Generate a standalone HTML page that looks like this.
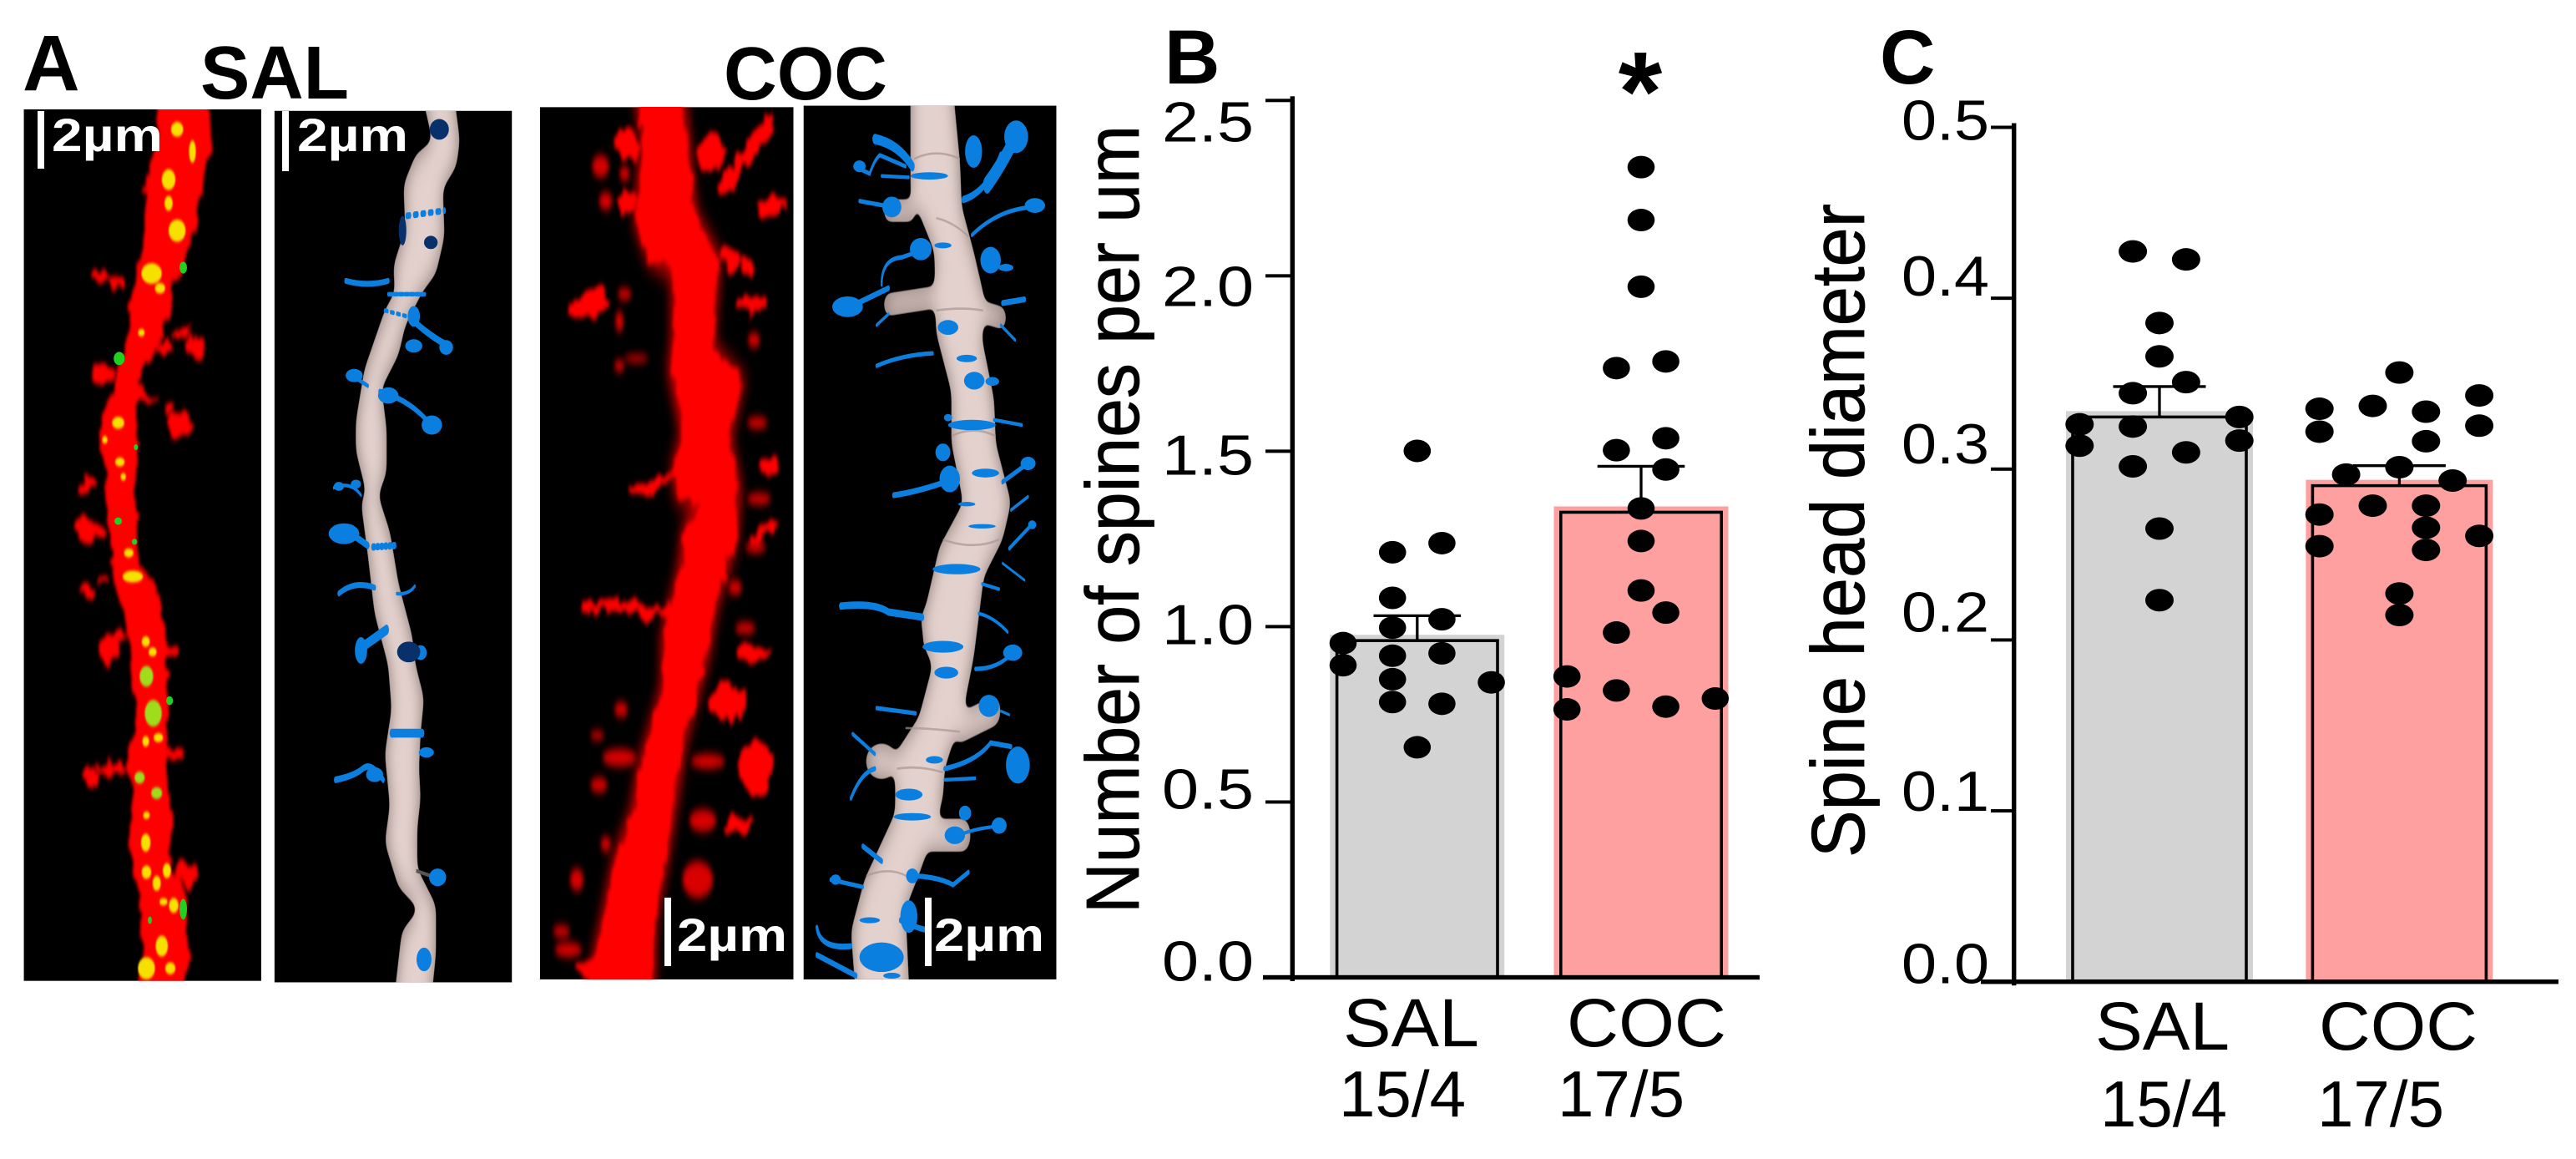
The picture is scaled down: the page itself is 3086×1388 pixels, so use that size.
<!DOCTYPE html>
<html>
<head>
<meta charset="utf-8">
<title>Dendritic spines: SAL vs COC</title>
<style>
html,body{margin:0;padding:0;background:#fff;width:3086px;height:1388px;overflow:hidden}
svg{display:block}
text{font-family:"Liberation Sans",sans-serif;fill:#000}
.w{fill:#fff;font-weight:bold}
</style>
</head>
<body>
<svg id="fig" xmlns="http://www.w3.org/2000/svg" width="3086" height="1388" viewBox="0 0 3086 1388">
<defs>
<filter id="b3" x="-20%" y="-20%" width="140%" height="140%"><feGaussianBlur stdDeviation="3"/></filter>
<filter id="b6" x="-30%" y="-30%" width="160%" height="160%"><feGaussianBlur stdDeviation="6"/></filter>
<filter id="b14" x="-30%" y="-10%" width="160%" height="120%"><feGaussianBlur stdDeviation="14"/></filter>
<filter id="b2" x="-20%" y="-20%" width="140%" height="140%"><feGaussianBlur stdDeviation="2"/></filter>
<filter id="organic" x="-15%" y="-5%" width="130%" height="110%" color-interpolation-filters="sRGB">
  <feTurbulence type="fractalNoise" baseFrequency="0.035" numOctaves="2" seed="7" result="n"/>
  <feDisplacementMap in="SourceGraphic" in2="n" scale="34" xChannelSelector="R" yChannelSelector="G" result="d"/>
  <feGaussianBlur in="d" stdDeviation="4"/>
</filter>
<filter id="dend" x="-15%" y="-5%" width="130%" height="110%" color-interpolation-filters="sRGB">
  <feGaussianBlur in="SourceAlpha" stdDeviation="9" result="bl"/>
  <feComponentTransfer in="bl" result="shape"><feFuncA type="linear" slope="10" intercept="-4.5"/></feComponentTransfer>
  <feGaussianBlur in="shape" stdDeviation="18" result="soft"/>
  <feFlood flood-color="#e3d1cd" result="fl"/>
  <feComposite in="fl" in2="shape" operator="in" result="base"/>
  <feFlood flood-color="#85736f" result="fd"/>
  <feComposite in="fd" in2="soft" operator="out" result="e0"/>
  <feComposite in="e0" in2="shape" operator="in" result="edge"/>
  <feMerge><feMergeNode in="base"/><feMergeNode in="edge"/></feMerge>
</filter>
<clipPath id="clip-sl"><rect x="70" y="148" width="697" height="1179"/></clipPath>
<clipPath id="clip-sr"><rect x="806" y="150" width="697" height="1179"/></clipPath>
<clipPath id="clip-cl"><rect x="17" y="145" width="744" height="1180"/></clipPath>
<clipPath id="clip-cr"><rect x="791" y="143" width="742" height="1182"/></clipPath>
</defs>
<rect width="3086" height="1388" fill="#fff"/>

<text x="27" y="108" font-size="95" font-weight="bold">A</text>
<text x="240" y="118" font-size="90" font-weight="bold" textLength="178" lengthAdjust="spacingAndGlyphs">SAL</text>
<text x="867" y="119" font-size="90" font-weight="bold" textLength="196" lengthAdjust="spacingAndGlyphs">COC</text>
<text x="1395" y="100" font-size="92" font-weight="bold">B</text>
<text x="2252" y="100" font-size="92" font-weight="bold">C</text>

<!-- SAL confocal -->
<g transform="scale(0.408,0.8852)">
<rect x="70" y="148" width="697" height="1179" fill="#000"/>
<g clip-path="url(#clip-sl)">
<g fill="#ff0000" filter="url(#organic)">
<polygon points="590,100 625,190 590,260 570,320 520,380 495,430 450,480 400,520 400,560 410,600 395,660 400,700 410,760 470,810 490,870 490,940 495,990 490,1050 505,1100 500,1170 550,1220 550,1280 545,1380 395,1380 420,1260 410,1210 375,1150 385,1090 375,1020 400,970 390,900 360,830 330,780 315,700 310,640 290,590 320,530 370,480 380,410 420,340 425,260 460,190 470,100"/>
<ellipse cx="295" cy="377" rx="28" ry="12"/><ellipse cx="345" cy="382" rx="25" ry="8"/><ellipse cx="575" cy="470" rx="28" ry="14"/><ellipse cx="535" cy="450" rx="30" ry="8"/><ellipse cx="485" cy="470" rx="25" ry="10"/><ellipse cx="300" cy="506" rx="35" ry="14"/><ellipse cx="410" cy="535" rx="35" ry="12"/><ellipse cx="530" cy="575" rx="38" ry="16"/><ellipse cx="500" cy="553" rx="15" ry="7"/><ellipse cx="258" cy="657" rx="25" ry="10"/><ellipse cx="320" cy="650" rx="15" ry="5"/><ellipse cx="265" cy="717" rx="45" ry="15"/><ellipse cx="262" cy="800" rx="20" ry="9"/><ellipse cx="300" cy="787" rx="20" ry="6"/><ellipse cx="325" cy="880" rx="30" ry="18"/><ellipse cx="340" cy="860" rx="30" ry="7"/><ellipse cx="517" cy="1018" rx="27" ry="12"/><ellipse cx="265" cy="1053" rx="26" ry="11"/><ellipse cx="330" cy="1040" rx="45" ry="10"/><ellipse cx="550" cy="1182" rx="35" ry="17"/><ellipse cx="450" cy="540" rx="20" ry="5"/><ellipse cx="500" cy="880" rx="25" ry="12"/>
</g>
<g fill="#f6e000" filter="url(#b2)">
<ellipse cx="520" cy="175" rx="18" ry="10"/><ellipse cx="565" cy="205" rx="10" ry="15"/><ellipse cx="495" cy="243" rx="20" ry="14"/><ellipse cx="495" cy="275" rx="12" ry="10"/><ellipse cx="520" cy="312" rx="25" ry="15"/><ellipse cx="445" cy="370" rx="30" ry="14"/><ellipse cx="470" cy="390" rx="15" ry="7"/><ellipse cx="415" cy="450" rx="10" ry="5"/><ellipse cx="347" cy="572" rx="18" ry="8"/><ellipse cx="308" cy="595" rx="8" ry="5"/><ellipse cx="352" cy="625" rx="14" ry="6"/><ellipse cx="362" cy="645" rx="8" ry="5"/><ellipse cx="378" cy="748" rx="14" ry="6"/><ellipse cx="390" cy="780" rx="30" ry="8"/><ellipse cx="428" cy="868" rx="12" ry="7"/><ellipse cx="448" cy="882" rx="12" ry="6"/><ellipse cx="428" cy="1003" rx="10" ry="7"/><ellipse cx="465" cy="998" rx="14" ry="6"/><ellipse cx="430" cy="1103" rx="10" ry="5"/><ellipse cx="428" cy="1140" rx="14" ry="12"/><ellipse cx="430" cy="1180" rx="14" ry="9"/><ellipse cx="460" cy="1195" rx="12" ry="10"/><ellipse cx="490" cy="1178" rx="12" ry="10"/><ellipse cx="510" cy="1225" rx="14" ry="10"/><ellipse cx="475" cy="1280" rx="18" ry="14"/><ellipse cx="430" cy="1310" rx="25" ry="15"/><ellipse cx="500" cy="1310" rx="15" ry="8"/><ellipse cx="480" cy="1220" rx="12" ry="5"/>
</g>
<g fill="#9fdc1e" filter="url(#b2)">
<ellipse cx="430" cy="915" rx="20" ry="14"/><ellipse cx="450" cy="965" rx="25" ry="18"/><ellipse cx="410" cy="1052" rx="15" ry="8"/><ellipse cx="460" cy="1073" rx="16" ry="8"/>
</g>
<g fill="#22d020">
<ellipse cx="350" cy="485" rx="16" ry="9"/><ellipse cx="538" cy="362" rx="11" ry="8"/><ellipse cx="347" cy="705" rx="11" ry="5"/><ellipse cx="395" cy="733" rx="8" ry="4"/><ellipse cx="498" cy="948" rx="10" ry="6"/><ellipse cx="538" cy="1230" rx="11" ry="14"/><ellipse cx="440" cy="1245" rx="6" ry="5"/><ellipse cx="399" cy="605" rx="6" ry="4"/>
</g>
</g>
</g>

<!-- SAL reconstruction -->
<g transform="scale(0.408,0.8852)">
<rect x="806" y="150" width="697" height="1179" fill="#000"/>
<g clip-path="url(#clip-sr)">
<g filter="url(#dend)">
<polygon fill="#d8c3bf" points="1325,100 1350,190 1340,225 1300,255 1305,320 1280,370 1240,395 1190,440 1170,480 1120,525 1135,580 1135,640 1110,670 1145,720 1170,790 1210,860 1220,900 1245,945 1235,990 1230,1040 1235,1080 1225,1120 1225,1175 1280,1225 1280,1290 1260,1380 1150,1380 1180,1260 1230,1230 1170,1200 1130,1140 1145,1090 1130,1020 1150,960 1140,900 1100,830 1080,750 1060,680 1075,665 1045,610 1045,570 1070,500 1130,420 1160,395 1155,360 1190,310 1185,250 1220,210 1270,190 1225,100"/>
</g>
<g fill="none" stroke="#0a7fe0" stroke-linecap="round">
<path d="M1015,380 Q1080,388 1140,380" stroke-width="8"/>
<path d="M1205,430 Q1260,455 1325,470" stroke-width="10"/>
<path d="M1040,510 L1080,522" stroke-width="6"/>
<path d="M1115,530 Q1200,540 1260,572" stroke-width="8"/>
<path d="M980,660 Q1030,650 1060,670" stroke-width="5"/>
<path d="M1040,725 L1080,738" stroke-width="10"/>
<path d="M995,803 Q1040,785 1100,795" stroke-width="8"/>
<path d="M1165,803 Q1200,805 1218,793" stroke-width="5"/>
<path d="M1065,875 L1135,852" stroke-width="14"/>
<path d="M985,1055 Q1040,1050 1065,1040 T1125,1055" stroke-width="9"/>
<path d="M1195,292 L1305,285" stroke-width="9" stroke-dasharray="8 14"/>
<path d="M1130,420 L1195,428" stroke-width="6" stroke-dasharray="8 10"/>
<path d="M1095,740 L1160,738" stroke-width="10" stroke-dasharray="4 8"/>
<path d="M1150,992 L1240,992" stroke-width="12"/>
<path d="M1140,398 L1250,398" stroke-width="6" stroke-dasharray="12 4"/>
</g>
<path d="M1222,1178 L1265,1185" stroke="#555" stroke-width="5" fill="none"/>
<g fill="#0a7fe0">
<ellipse cx="1215" cy="428" rx="18" ry="14"/><ellipse cx="1310" cy="470" rx="20" ry="10"/><ellipse cx="1215" cy="468" rx="25" ry="9"/><ellipse cx="1040" cy="508" rx="25" ry="9"/><ellipse cx="1140" cy="535" rx="30" ry="11"/><ellipse cx="1268" cy="575" rx="30" ry="13"/><ellipse cx="995" cy="658" rx="15" ry="6"/><ellipse cx="1045" cy="655" rx="15" ry="6"/><ellipse cx="1010" cy="722" rx="45" ry="14"/><ellipse cx="1060" cy="880" rx="18" ry="18"/><ellipse cx="1235" cy="883" rx="18" ry="10"/><ellipse cx="1252" cy="1018" rx="22" ry="7"/><ellipse cx="1100" cy="1048" rx="25" ry="10"/><ellipse cx="1285" cy="1187" rx="25" ry="12"/><ellipse cx="1245" cy="1298" rx="22" ry="16"/>
</g>
<g fill="#08306b">
<ellipse cx="1290" cy="175" rx="28" ry="14"/><ellipse cx="1182" cy="312" rx="11" ry="20"/><ellipse cx="1265" cy="328" rx="20" ry="9"/><ellipse cx="1200" cy="882" rx="34" ry="14"/>
</g>
</g>
</g>

<!-- COC confocal -->
<g transform="translate(640,0) scale(0.408,0.8852)">
<rect x="17" y="145" width="744" height="1180" fill="#000"/>
<g clip-path="url(#clip-cl)">
<g fill="#d80000" filter="url(#b6)">
<ellipse cx="195" cy="225" rx="25" ry="15"/><ellipse cx="265" cy="235" rx="15" ry="10"/><ellipse cx="210" cy="272" rx="20" ry="12"/><ellipse cx="265" cy="398" rx="20" ry="8"/><ellipse cx="250" cy="435" rx="12" ry="14"/><ellipse cx="250" cy="495" rx="15" ry="8"/><ellipse cx="300" cy="485" rx="35" ry="5"/><ellipse cx="645" cy="460" rx="18" ry="10"/><ellipse cx="655" cy="572" rx="30" ry="8"/><ellipse cx="660" cy="675" rx="35" ry="8"/><ellipse cx="650" cy="740" rx="30" ry="8"/><ellipse cx="590" cy="795" rx="20" ry="10"/><ellipse cx="620" cy="850" rx="30" ry="8"/><ellipse cx="255" cy="960" rx="20" ry="10"/><ellipse cx="185" cy="995" rx="20" ry="6"/><ellipse cx="250" cy="1025" rx="50" ry="12"/><ellipse cx="190" cy="1062" rx="25" ry="10"/><ellipse cx="510" cy="1030" rx="50" ry="10"/><ellipse cx="495" cy="1110" rx="40" ry="15"/><ellipse cx="210" cy="1142" rx="15" ry="10"/><ellipse cx="125" cy="1190" rx="20" ry="15"/><ellipse cx="480" cy="1190" rx="45" ry="25"/><ellipse cx="80" cy="1260" rx="25" ry="8"/><ellipse cx="100" cy="1285" rx="40" ry="10"/>
</g>
<polygon fill="#c00000" stroke="#c00000" stroke-width="20" filter="url(#b14)" points="430,100 470,290 540,350 520,470 610,515 570,590 600,660 590,730 530,820 510,880 440,1000 390,1150 350,1250 345,1380 140,1380 210,1230 240,1160 290,1100 310,1040 380,930 380,860 430,770 440,720 490,680 420,670 410,630 440,590 400,500 410,460 410,370 340,350 300,300 320,190 295,100"/>
<g fill="#ff0000" filter="url(#organic)">
<polygon points="430,100 470,290 540,350 520,470 610,515 570,590 600,660 590,730 530,820 510,880 440,1000 390,1150 350,1250 345,1380 140,1380 210,1230 240,1160 290,1100 310,1040 380,930 380,860 430,770 440,720 490,680 420,670 410,630 440,590 400,500 410,460 410,370 340,350 300,300 320,190 295,100"/>
<ellipse cx="520" cy="205" rx="40" ry="30"/><path d="M550,255 L690,170" stroke="#ff0000" stroke-width="30" stroke-linecap="round"/><ellipse cx="700" cy="280" rx="45" ry="12"/><ellipse cx="270" cy="195" rx="40" ry="20"/><ellipse cx="270" cy="275" rx="30" ry="15"/><ellipse cx="575" cy="350" rx="30" ry="22"/><ellipse cx="625" cy="362" rx="20" ry="10"/><ellipse cx="165" cy="412" rx="60" ry="18" transform="rotate(-10 165 412)"/><ellipse cx="640" cy="412" rx="50" ry="12"/><ellipse cx="690" cy="632" rx="30" ry="15"/><ellipse cx="680" cy="715" rx="40" ry="10" transform="rotate(-20 680 715)"/><ellipse cx="640" cy="885" rx="50" ry="12"/><ellipse cx="570" cy="950" rx="55" ry="25"/><ellipse cx="650" cy="1035" rx="50" ry="35"/><ellipse cx="600" cy="1117" rx="40" ry="12"/><ellipse cx="180" cy="1310" rx="60" ry="15"/><ellipse cx="280" cy="1280" rx="60" ry="45"/>
<path d="M135,822 Q250,815 350,830 L420,825" stroke="#ff0000" stroke-width="14" fill="none"/><path d="M280,668 L420,640" stroke="#ff0000" stroke-width="14" fill="none"/>
</g>
</g>
</g>

<!-- COC reconstruction -->
<g transform="translate(640,0) scale(0.408,0.8852)">
<rect x="791" y="143" width="742" height="1182" fill="#000"/>
<g clip-path="url(#clip-cr)">
<g filter="url(#dend)">
<path d="M1040,412 L1180,402" stroke="#000" stroke-width="30" stroke-linecap="round"/>
<path d="M1315,422 L1372,430" stroke="#000" stroke-width="30" stroke-linecap="round"/>
<path d="M1250,985 L1350,962" stroke="#000" stroke-width="40" stroke-linecap="round"/>
<path d="M1145,1130 L1260,1130" stroke="#000" stroke-width="44" stroke-linecap="round"/>
<path d="M1040,285 L1105,285" stroke="#000" stroke-width="30" stroke-linecap="round"/>
<ellipse cx="1020" cy="1030" rx="48" ry="24"/>
<ellipse cx="1175" cy="840" rx="40" ry="24"/>
<polygon points="1225,100 1250,220 1255,280 1290,340 1320,400 1315,460 1350,540 1355,600 1400,680 1375,730 1320,780 1290,890 1260,960 1205,1040 1200,1080 1140,1170 1090,1230 1105,1380 950,1380 930,1260 970,1190 1060,1100 1060,1020 1130,970 1170,900 1140,870 1150,820 1190,740 1260,680 1225,600 1225,530 1180,450 1175,340 1105,260 1105,100"/>
</g>
<g fill="none" stroke="#a8958f" stroke-width="3" opacity="0.7">
<path d="M1115,215 Q1180,200 1250,215"/><path d="M1180,295 Q1230,300 1275,320"/><path d="M1180,420 Q1250,415 1318,420"/><path d="M1225,590 Q1290,575 1355,590"/><path d="M1200,730 Q1290,745 1365,730"/><path d="M1090,985 Q1160,985 1250,990"/><path d="M1065,1040 Q1130,1035 1200,1045"/><path d="M975,1185 Q1050,1170 1110,1190"/>
</g>
<g fill="none" stroke="#0a7fe0" stroke-linecap="round">
<path d="M1000,188 Q1070,195 1110,225" stroke-width="14"/><path d="M940,225 L985,235 Q1000,215 1015,210 L1090,225" stroke-width="6"/><path d="M1020,238 L1100,240" stroke-width="5"/><path d="M955,272 L1050,280" stroke-width="6"/><path d="M1260,270 Q1330,260 1370,210" stroke-width="10"/><path d="M1330,250 Q1370,225 1420,180" stroke-width="24"/><path d="M1285,318 Q1370,280 1480,280" stroke-width="6"/><path d="M1020,385 Q1020,350 1080,348 L1130,340" stroke-width="6"/><path d="M950,410 L1040,390" stroke-width="8"/><path d="M1005,440 L1040,425" stroke-width="5"/><path d="M1375,410 L1440,405" stroke-width="8"/><path d="M1370,440 L1412,460" stroke-width="5"/><path d="M1005,495 Q1080,480 1170,478" stroke-width="6"/><path d="M1350,568 L1432,575" stroke-width="5"/><path d="M1055,670 Q1130,665 1220,650" stroke-width="8"/><path d="M1375,652 L1440,630" stroke-width="7"/><path d="M1400,690 L1450,672" stroke-width="5"/><path d="M1395,742 L1460,710" stroke-width="6"/><path d="M1375,762 L1440,785" stroke-width="4"/><path d="M1315,790 L1365,797" stroke-width="5"/><path d="M900,820 Q1000,815 1040,828 L1140,835" stroke-width="10"/><path d="M1305,830 Q1350,835 1390,855" stroke-width="5"/><path d="M1295,905 Q1360,905 1400,885" stroke-width="6"/><path d="M1005,958 L1120,965" stroke-width="6"/><path d="M1370,962 L1395,967" stroke-width="4"/><path d="M935,993 L1000,1020" stroke-width="6"/><path d="M930,1080 Q960,1045 1000,1040" stroke-width="7"/><path d="M1205,1040 Q1300,1030 1340,1005 L1400,1010" stroke-width="7"/><path d="M1205,1055 L1295,1053" stroke-width="5"/><path d="M1245,1130 Q1300,1120 1360,1118" stroke-width="5"/><path d="M965,1145 L1020,1165" stroke-width="8"/><path d="M870,1190 L965,1200" stroke-width="6"/><path d="M1100,1185 Q1180,1185 1230,1197 L1275,1180" stroke-width="7"/><path d="M1075,1245 Q1120,1255 1150,1258" stroke-width="8"/><path d="M830,1255 Q840,1285 930,1280" stroke-width="8"/><path d="M830,1292 L945,1320" stroke-width="8"/>
</g>
<g fill="#0a7fe0">
<ellipse cx="955" cy="225" rx="18" ry="8"/><ellipse cx="1050" cy="280" rx="28" ry="14"/><ellipse cx="1290" cy="205" rx="25" ry="22"/><ellipse cx="1415" cy="185" rx="35" ry="22"/><ellipse cx="1470" cy="278" rx="30" ry="10"/><ellipse cx="1135" cy="337" rx="32" ry="15"/><ellipse cx="1340" cy="352" rx="30" ry="18"/><ellipse cx="1385" cy="362" rx="22" ry="5"/><ellipse cx="920" cy="415" rx="45" ry="14"/><ellipse cx="1215" cy="443" rx="30" ry="10"/><ellipse cx="1292" cy="515" rx="30" ry="12"/><ellipse cx="1345" cy="516" rx="20" ry="6"/><ellipse cx="1215" cy="565" rx="12" ry="5"/><ellipse cx="1200" cy="612" rx="22" ry="12"/><ellipse cx="1220" cy="648" rx="30" ry="18"/><ellipse cx="1450" cy="627" rx="22" ry="9"/><ellipse cx="1462" cy="710" rx="12" ry="6"/><ellipse cx="1405" cy="883" rx="28" ry="11"/><ellipse cx="1335" cy="955" rx="30" ry="15"/><ellipse cx="1420" cy="1035" rx="35" ry="25"/><ellipse cx="1265" cy="1100" rx="18" ry="10"/><ellipse cx="1365" cy="1117" rx="22" ry="11"/><ellipse cx="885" cy="1190" rx="15" ry="7"/><ellipse cx="1110" cy="1185" rx="18" ry="10"/><ellipse cx="1100" cy="1240" rx="25" ry="22"/>
<ellipse cx="1160" cy="238" rx="55" ry="5"/><ellipse cx="1200" cy="332" rx="25" ry="4"/><ellipse cx="1270" cy="485" rx="30" ry="5"/><ellipse cx="1285" cy="575" rx="70" ry="7"/><ellipse cx="1325" cy="640" rx="40" ry="6"/><ellipse cx="1240" cy="770" rx="70" ry="7"/><ellipse cx="1200" cy="875" rx="60" ry="8"/><ellipse cx="1210" cy="910" rx="35" ry="8"/><ellipse cx="1100" cy="1075" rx="40" ry="8"/><ellipse cx="1110" cy="1105" rx="55" ry="5"/><ellipse cx="1175" cy="1028" rx="25" ry="5"/><ellipse cx="1020" cy="1295" rx="65" ry="20"/><ellipse cx="1050" cy="1320" rx="25" ry="4"/><ellipse cx="985" cy="1245" rx="30" ry="4"/><ellipse cx="1270" cy="682" rx="25" ry="3"/><ellipse cx="1315" cy="712" rx="40" ry="3"/><ellipse cx="1235" cy="1130" rx="30" ry="12"/>
</g>
</g>
</g>

<!-- scale bars -->
<rect x="45" y="133" width="8" height="69" fill="#fff"/>
<text class="w" x="62" y="181" font-size="56" textLength="133" lengthAdjust="spacingAndGlyphs">2µm</text>
<rect x="338" y="133" width="8" height="72" fill="#fff"/>
<text class="w" x="356" y="181" font-size="56" textLength="133" lengthAdjust="spacingAndGlyphs">2µm</text>
<rect x="796" y="1075" width="8" height="82" fill="#fff"/>
<text class="w" x="811" y="1139" font-size="56" textLength="132" lengthAdjust="spacingAndGlyphs">2µm</text>
<rect x="1108" y="1075" width="8" height="82" fill="#fff"/>
<text class="w" x="1119" y="1139" font-size="56" textLength="132" lengthAdjust="spacingAndGlyphs">2µm</text>

<g id="chart-b"></g>
<g id="chart-c"></g>
</svg>

<script>
// Panel B data
const bCategories = ['SAL', 'COC'];
const bGroupSizes = ['15/4', '17/5'];
const bMeans = [0.96, 1.326];
const bErrors = [0.071, 0.131];
const bTicks = [0, 0.5, 1, 1.5, 2, 2.5];
const bTickLabels = ['0.0', '0.5', '1.0', '1.5', '2.0', '2.5'];
const bSalValues = [1.501, 1.212, 1.238, 1.082, 0.997, 1.021, 0.953, 0.89, 0.917, 0.924, 0.85, 0.841, 0.785, 0.78, 0.656];
const bSalColumns = [0, -1, 1, -1, -1, 1, -3, -3, -1, 1, -1, 3, -1, 1, 0];
const bCocValues = [2.31, 2.159, 1.969, 1.737, 1.756, 1.503, 1.537, 1.448, 1.337, 1.244, 1.103, 1.04, 0.983, 0.858, 0.764, 0.818, 0.772, 0.795];
const bCocColumns = [0, 0, 0, -1, 1, -1, 1, 1, 0, 0, 0, 1, -1, -3, -3, -1, 1, 3];

// Panel C data
const cCategories = ['SAL', 'COC'];
const cGroupSizes = ['15/4', '17/5'];
const cMeans = [0.3305, 0.2903];
const cErrors = [0.0178, 0.0117];
const cTicks = [0, 0.1, 0.2, 0.3, 0.4, 0.5];
const cTickLabels = ['0.0', '0.1', '0.2', '0.3', '0.4', '0.5'];
const cSalValues = [0.4274, 0.4227, 0.3855, 0.366, 0.3444, 0.3509, 0.3262, 0.3137, 0.3249, 0.3305, 0.3167, 0.3098, 0.3016, 0.2652, 0.2233];
const cSalColumns = [-1, 1, 0, 0, -1, 1, -3, -3, -1, 3, 3, 1, -1, 0, 0];
const cCocValues = [0.3565, 0.3353, 0.3219, 0.337, 0.3336, 0.3163, 0.3431, 0.3254, 0.2968, 0.3011, 0.2933, 0.2786, 0.2786, 0.2657, 0.2527, 0.2734, 0.2549, 0.2609, 0.2272, 0.2146];
const cCocColumns = [0, -3, -3, -1, 1, 1, 3, 3, -2, 0, 2, -1, 1, 1, 1, -3, -3, 3, 0, 0];

const NS = 'http://www.w3.org/2000/svg';
function mk(tag, attrs, parent) {
  const el = document.createElementNS(NS, tag);
  for (const k in attrs) el.setAttribute(k, attrs[k]);
  parent.appendChild(el);
  return el;
}

function drawChart(root, g, categories, groupSizes, means, errors, ticks, tickLabels, valueSets, columnSets) {
  const y = v => g.yZero - (v / g.yMax) * (g.yZero - g.yTop);
  const x = i => g.firstCenter + i * g.centerStep;
  let el;

  categories.forEach((cat, i) => {
    const top = y(means[i]);
    el = mk('rect', {x: x(i) - g.haloHalf, y: top - 7, width: g.haloHalf * 2, height: g.yZero - top + 7, fill: i === 0 ? '#d3d3d3' : '#ffa0a0'}, root);
    
    

    el = mk('path', {d: `M${x(i) - g.barHalf},${g.yZero} V${top} H${x(i) + g.barHalf} V${g.yZero}`, fill: 'none', stroke: '#000', 'stroke-width': 3.6}, root);
    
    

    const errTop = y(means[i] + errors[i]);
    el = mk('path', {d: `M${x(i)},${top} V${errTop} M${x(i) - g.capHalf},${errTop} H${x(i) + g.capHalf}`, fill: 'none', stroke: '#000', 'stroke-width': 3.3}, root);
    
    

    el = mk('text', {x: g.catX[i], y: g.catBase, 'font-size': 82, textLength: g.catLen[i], lengthAdjust: 'spacingAndGlyphs'}, root);
    el.textContent = cat;
    
    

    el = mk('text', {x: g.sizeX[i], y: g.sizeBase, 'font-size': 78, textLength: 152, lengthAdjust: 'spacingAndGlyphs'}, root);
    el.textContent = groupSizes[i];
    
    
  });

  valueSets.forEach((vals, s) => {
    vals.forEach((v, k) => {
      el = mk('ellipse', {cx: x(s) + columnSets[s][k] * g.colStep, cy: y(v), rx: g.dotRx, ry: 13.5, fill: '#000'}, root);
      
      
    });
  });

  el = mk('rect', {x: g.axisX - 2.7, y: g.yTop - 5, width: 5.4, height: g.yZero - g.yTop + 9.5, fill: '#000'}, root);
  
  

  el = mk('rect', {x: g.baseStart, y: g.yZero - 2.7, width: g.baseEnd - g.baseStart, height: 5.4, fill: '#000'}, root);
  
  

  ticks.forEach((t, i) => {
    if (t !== 0) {
      el = mk('rect', {x: g.tickStart, y: y(t) - 2, width: g.axisX - g.tickStart, height: 4, fill: '#000'}, root);
      
      
    }
    el = mk('text', {x: g.labelX, y: y(t) + g.labelDrop[i], 'font-size': 68, textLength: g.labelLen, lengthAdjust: 'spacingAndGlyphs'}, root);
    el.textContent = tickLabels[i];
    
    
  });

  el = mk('text', {transform: `translate(${g.titleX},${g.titleBottom}) rotate(-90)`, 'font-size': 90, textLength: g.titleLen, lengthAdjust: 'spacingAndGlyphs', stroke: '#000', 'stroke-width': 0.8}, root);
  el.textContent = g.title;
  
  
}

drawChart(document.getElementById('chart-b'), {
  yZero: 1170.5, yTop: 120.3, yMax: 2.5, axisX: 1548.3, baseStart: 1513, baseEnd: 2108, tickStart: 1516,
  firstCenter: 1697.8, centerStep: 268.2, barHalf: 96.2, haloHalf: 104.5, capHalf: 52.3, colStep: 29.6, dotRx: 16.3,
  catX: [1609, 1877], catLen: [163, 191], catBase: 1253, sizeX: [1604, 1866], sizeBase: 1337,
  labelX: 1392, labelLen: 110, labelDrop: [4, 8, 21, 28, 36, 49],
  title: 'Number of spines per um', titleX: 1364, titleBottom: 1094, titleLen: 944
}, bCategories, bGroupSizes, bMeans, bErrors, bTicks, bTickLabels, [bSalValues, bCocValues], [bSalColumns, bCocColumns]);

drawChart(document.getElementById('chart-c'), {
  yZero: 1175.7, yTop: 152.5, yMax: 0.5, axisX: 2412.7, baseStart: 2373, baseEnd: 3065, tickStart: 2385,
  firstCenter: 2587, centerStep: 287.4, barHalf: 104, haloHalf: 112, capHalf: 55.5, colStep: 31.9, dotRx: 17,
  catX: [2510, 2778], catLen: [161, 190], catBase: 1257, sizeX: [2516, 2776], sizeBase: 1349,
  labelX: 2278, labelLen: 105, labelDrop: [2, 0, -10, -7, -3, 15],
  title: 'Spine head diameter', titleX: 2233, titleBottom: 1027, titleLen: 783
}, cCategories, cGroupSizes, cMeans, cErrors, cTicks, cTickLabels, [cSalValues, cCocValues], [cSalColumns, cCocColumns]);

const star = mk('text', {x: 1965, y: 156, 'font-size': 135, 'font-weight': 'bold', 'text-anchor': 'middle'}, document.getElementById('chart-b'));
star.textContent = '*';


</script>
</body>
</html>
